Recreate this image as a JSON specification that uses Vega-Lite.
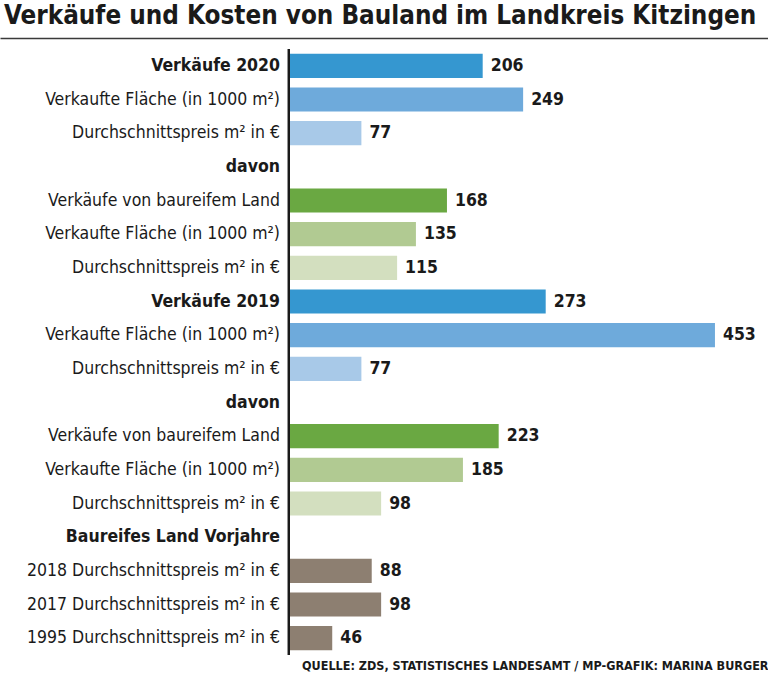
{
  "$schema": "https://vega.github.io/schema/vega-lite/v6.json",
  "width": 768,
  "height": 606,
  "autosize": "none",
  "padding": {"left": 0, "right": 0, "top": 49, "bottom": 21},
  "background": "white",
  "config": {"view": {"stroke": null}, "font": "DejaVu Sans Condensed, sans-serif"},
  "title": {
    "text": "Verkäufe und Kosten von Bauland im Landkreis Kitzingen",
    "anchor": "start",
    "frame": "group",
    "fontSize": 25.8,
    "fontWeight": "bold",
    "font": "DejaVu Sans Condensed, sans-serif",
    "color": "#1a1a1a",
    "baseline": "alphabetic",
    "offset": -12,
    "dx": 4
  },
  "data": {
    "values": [
      {"row": "01", "label": "Verkäufe 2020", "level": "head", "series": "Verkäufe", "value": 206},
      {"row": "02", "label": "Verkaufte Fläche (in 1000 m²)", "level": "item", "series": "Fläche", "value": 249},
      {"row": "03", "label": "Durchschnittspreis m² in €", "level": "item", "series": "Preis", "value": 77},
      {"row": "04", "label": "davon", "level": "head", "series": "none", "value": null},
      {"row": "05", "label": "Verkäufe von baureifem Land", "level": "item", "series": "Land Verkäufe", "value": 168},
      {"row": "06", "label": "Verkaufte Fläche (in 1000 m²)", "level": "item", "series": "Land Fläche", "value": 135},
      {"row": "07", "label": "Durchschnittspreis m² in €", "level": "item", "series": "Land Preis", "value": 115},
      {"row": "08", "label": "Verkäufe 2019", "level": "head", "series": "Verkäufe", "value": 273},
      {"row": "09", "label": "Verkaufte Fläche (in 1000 m²)", "level": "item", "series": "Fläche", "value": 453},
      {"row": "10", "label": "Durchschnittspreis m² in €", "level": "item", "series": "Preis", "value": 77},
      {"row": "11", "label": "davon", "level": "head", "series": "none", "value": null},
      {"row": "12", "label": "Verkäufe von baureifem Land", "level": "item", "series": "Land Verkäufe", "value": 223},
      {"row": "13", "label": "Verkaufte Fläche (in 1000 m²)", "level": "item", "series": "Land Fläche", "value": 185},
      {"row": "14", "label": "Durchschnittspreis m² in €", "level": "item", "series": "Land Preis", "value": 98},
      {"row": "15", "label": "Baureifes Land Vorjahre", "level": "head", "series": "none", "value": null},
      {"row": "16", "label": "2018 Durchschnittspreis m² in €", "level": "item", "series": "Vorjahre", "value": 88},
      {"row": "17", "label": "2017 Durchschnittspreis m² in €", "level": "item", "series": "Vorjahre", "value": 98},
      {"row": "18", "label": "1995 Durchschnittspreis m² in €", "level": "item", "series": "Vorjahre", "value": 46}
    ]
  },
  "encoding": {
    "y": {
      "field": "row",
      "type": "ordinal",
      "sort": "ascending",
      "axis": null,
      "scale": {"paddingInner": 0.28, "paddingOuter": 0.14}
    }
  },
  "layer": [
    {
      "transform": [{"filter": "datum.value != null"}],
      "mark": {"type": "bar"},
      "encoding": {
        "x": {
          "field": "value",
          "type": "quantitative",
          "scale": {"domain": [-307.3, 509.4], "nice": false, "zero": false},
          "axis": {
            "orient": "top",
            "offset": 11,
            "domain": true,
            "domainColor": "#3a3a3a",
            "domainWidth": 1.5,
            "ticks": false,
            "labels": false,
            "grid": false,
            "title": null
          }
        },
        "color": {
          "field": "series",
          "type": "nominal",
          "legend": null,
          "scale": {
            "domain": ["Verkäufe", "Fläche", "Preis", "Land Verkäufe", "Land Fläche", "Land Preis", "Vorjahre"],
            "range": ["#3597d0", "#6eaadb", "#a8c9e8", "#6aa842", "#b1ca92", "#d3dfbf", "#8d7f71"]
          }
        }
      }
    },
    {
      "mark": {"type": "rule", "color": "#1a1a1a", "strokeWidth": 2},
      "encoding": {"x": {"datum": 0, "axis": null}, "y": null}
    },
    {
      "transform": [{"filter": "datum.level === 'head'"}],
      "mark": {"type": "text", "align": "right", "baseline": "middle", "dx": -9, "fontSize": 17.5, "fontWeight": "bold", "color": "#1a1a1a"},
      "encoding": {"x": {"datum": 0, "axis": null}, "text": {"field": "label"}}
    },
    {
      "transform": [{"filter": "datum.level === 'item'"}],
      "mark": {"type": "text", "align": "right", "baseline": "middle", "dx": -9, "fontSize": 17.5, "color": "#1a1a1a"},
      "encoding": {"x": {"datum": 0, "axis": null}, "text": {"field": "label"}}
    },
    {
      "transform": [{"filter": "datum.value != null"}],
      "mark": {"type": "text", "align": "left", "baseline": "middle", "dx": 8, "fontSize": 17.5, "fontWeight": "bold", "color": "#1a1a1a"},
      "encoding": {
        "x": {
          "field": "value",
          "type": "quantitative",
          "axis": {
            "orient": "bottom",
            "domain": false,
            "ticks": false,
            "labels": false,
            "grid": false,
            "title": "QUELLE: ZDS, STATISTISCHES LANDESAMT / MP-GRAFIK: MARINA BURGER",
            "titleAnchor": "end",
            "titleFontSize": 12.5,
            "titleFontWeight": "bold",
            "titleColor": "#1a1a1a",
            "titlePadding": 4
          }
        },
        "text": {"field": "value", "type": "quantitative"}
      }
    }
  ],
  "resolve": {"axis": {"x": "independent"}}
}
